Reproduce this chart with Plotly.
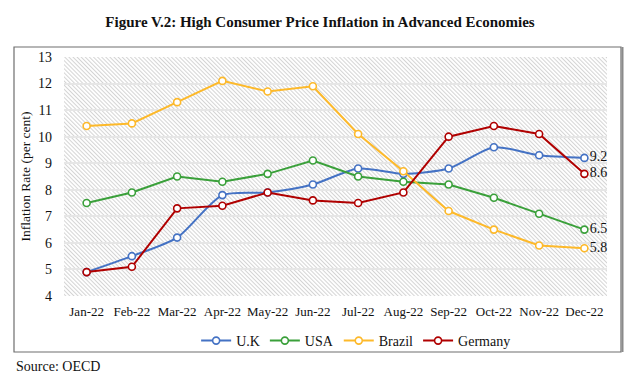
import base64
import plotly.graph_objects as go

months = ["Jan-22", "Feb-22", "Mar-22", "Apr-22", "May-22", "Jun-22",
          "Jul-22", "Aug-22", "Sep-22", "Oct-22", "Nov-22", "Dec-22"]
uk = [4.9, 5.5, 6.2, 7.8, 7.9, 8.2, 8.8, 8.6, 8.8, 9.6, 9.3, 9.2]
usa = [7.5, 7.9, 8.5, 8.3, 8.6, 9.1, 8.5, 8.3, 8.2, 7.7, 7.1, 6.5]
brazil = [10.4, 10.5, 11.3, 12.1, 11.7, 11.9, 10.1, 8.7, 7.2, 6.5, 5.9, 5.8]
germany = [4.9, 5.1, 7.3, 7.4, 7.9, 7.6, 7.5, 7.9, 10.0, 10.4, 10.1, 8.6]
y_ticks = [4, 5, 6, 7, 8, 9, 10, 11, 12, 13]

series = [
    ("U.K", uk, "#4472C4", "spline"),
    ("USA", usa, "#3AA03A", "linear"),
    ("Brazil", brazil, "#FDB92A", "linear"),
    ("Germany", germany, "#B00000", "linear"),
]

FONT = "Liberation Serif, Times New Roman, serif"

fig = go.Figure()
for name, vals, color, shape in series:
    texts = [""] * (len(vals) - 1) + [f"{vals[-1]:.1f}"]
    fig.add_trace(go.Scatter(
        x=months, y=vals, name=name,
        mode="lines+markers+text",
        text=texts, textposition="middle right",
        textfont=dict(family=FONT, size=14, color="#111"),
        line=dict(color=color, width=2, shape=shape, smoothing=0.7),
        marker=dict(symbol="circle", size=7, color="white",
                    line=dict(color=color, width=1.6)),
        cliponaxis=False,
    ))

# hatched plot background
W, H = 543, 239
svg = (f'<svg xmlns="http://www.w3.org/2000/svg" width="{W}" height="{H}">'
       '<defs><pattern id="p" width="2.9" height="2.9" patternUnits="userSpaceOnUse" '
       'patternTransform="rotate(-45)">'
       '<rect width="2.9" height="2.9" fill="#ffffff"/>'
       '<rect width="1.0" height="2.9" fill="#d4d4d4"/></pattern></defs>'
       f'<rect width="{W}" height="{H}" fill="url(#p)"/></svg>')
src = "data:image/svg+xml;base64," + base64.b64encode(svg.encode()).decode()

fig.update_layout(
    width=640, height=379,
    margin=dict(l=64, r=33, t=57, b=83),
    paper_bgcolor="white",
    plot_bgcolor="rgba(0,0,0,0)",
    font=dict(family=FONT, size=13, color="#111"),
    title=dict(text="<b>Figure V.2: High Consumer Price Inflation in Advanced Economies</b>",
               x=0.5, xanchor="center", y=1 - 22 / 379, yanchor="middle",
               font=dict(family=FONT, size=15, color="#111")),
    images=[dict(source=src, xref="paper", yref="paper", x=0, y=1,
                 sizex=1, sizey=1, sizing="stretch", layer="below",
                 xanchor="left", yanchor="top")],
    xaxis=dict(type="category", range=[-0.5, 11.5], showgrid=False,
               showline=False, ticks="", tickfont=dict(size=13),
               ticklabelstandoff=6, fixedrange=True),
    yaxis=dict(range=[4, 13], tickvals=y_ticks, showgrid=True,
               gridcolor="#e6e6e6", gridwidth=2, zeroline=False,
               showline=False, ticks="", tickfont=dict(size=14),
               ticklabelstandoff=11, fixedrange=True,
               title=dict(text="Inflation Rate (per cent)", font=dict(size=13.5),
                          standoff=4)),
    legend=dict(orientation="h", x=0.538, xanchor="center",
                y=(296 - 341) / 239, yanchor="middle",
                font=dict(size=14), itemwidth=30, bgcolor="rgba(0,0,0,0)"),
    showlegend=True,
    hovermode=False,
)

# outer frame
x0 = (14 - 64) / W
x1 = (621 - 64) / W
y0 = (296 - 352) / H
y1 = (296 - 47) / H
fig.add_shape(type="rect", xref="paper", yref="paper", x0=x0, x1=x1, y0=y0, y1=y1,
              line=dict(color="#6e6e6e", width=1.2), layer="above")
fig.add_shape(type="line", xref="paper", yref="paper", x0=x1 + 1.5 / W, x1=x1 + 1.5 / W,
              y0=y0, y1=y1, line=dict(color="#8a8a8a", width=2), layer="above")

fig.add_annotation(text="Source: OECD", xref="paper", yref="paper",
                   x=x0, y=(296 - 366) / H, xanchor="left", yanchor="middle",
                   showarrow=False, font=dict(family=FONT, size=14, color="#111"))

fig.write_html("out.html", config={"displayModeBar": False},
               post_script="document.body.style.margin='0';document.body.style.padding='0';")
